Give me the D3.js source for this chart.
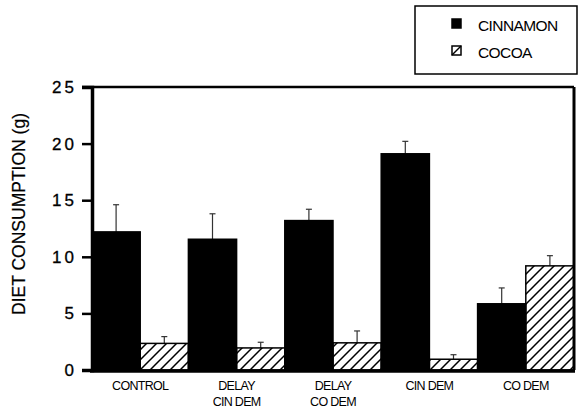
<!DOCTYPE html>
<html>
<head>
<meta charset="utf-8">
<script src="https://cdn.jsdelivr.net/npm/d3@7"></script>
<style>
  body { margin: 0; background: #fff; }
  svg { display: block; font-family: "Liberation Sans", Arial, sans-serif; }
</style>
</head>
<body>
<div id="chart"></div>
<script>
// data
var groups = [["CONTROL"], ["DELAY", "CIN DEM"], ["DELAY", "CO DEM"], ["CIN DEM"], ["CO DEM"]];
var series = ["CINNAMON", "COCOA"];
var cinnamon = [12.2, 11.55, 13.2, 19.1, 5.85];
var cinnamonErr = [2.4, 2.25, 1.0, 1.1, 1.4];
var cocoa = [2.35, 1.95, 2.4, 0.95, 9.2];
var cocoaErr = [0.6, 0.5, 1.05, 0.4, 0.9];
var yTicks = [0, 5, 10, 15, 20, 25];

var W = 581, H = 420;
var plotL = 92, plotR = 574, plotT = 87, plotB = 370;

var svg = d3.select("#chart").append("svg")
    .attr("width", W)
    .attr("height", H);

var defs = svg.append("defs");
defs.append("pattern")
    .attr("id", "hatch")
    .attr("patternUnits", "userSpaceOnUse")
    .attr("width", 10)
    .attr("height", 10)
  .append("path")
    .attr("d", "M-2,12 L12,-2 M-7,7 L7,-7 M3,17 L17,3")
    .attr("stroke", "#000")
    .attr("stroke-width", 1.5);

var x0 = d3.scaleBand()
    .domain(d3.range(groups.length))
    .range([plotL, plotR])
    .padding(0);

var x1 = d3.scaleBand()
    .domain(series)
    .range([0, x0.bandwidth()])
    .padding(0);

var y = d3.scaleLinear()
    .domain([0, 25])
    .range([plotB, plotT]);

var rows = [];
groups.forEach(function(g, i) {
  rows.push({g: i, s: "CINNAMON", v: cinnamon[i], e: cinnamonErr[i]});
  rows.push({g: i, s: "COCOA", v: cocoa[i], e: cocoaErr[i]});
});

// error bars (drawn first so the bar top covers the stem)
var err = svg.append("g").attr("stroke", "#333").attr("stroke-width", 1.2);
rows.forEach(function(d) {
  var cx = x0(d.g) + x1(d.s) + x1.bandwidth() / 2;
  err.append("line")
      .attr("x1", cx).attr("x2", cx)
      .attr("y1", y(d.v)).attr("y2", y(d.v + d.e));
  err.append("line")
      .attr("x1", cx - 3).attr("x2", cx + 3)
      .attr("y1", y(d.v + d.e)).attr("y2", y(d.v + d.e));
});

svg.append("g").selectAll("rect")
    .data(rows)
    .enter().append("rect")
    .attr("x", d => x0(d.g) + x1(d.s))
    .attr("y", d => y(d.v))
    .attr("width", x1.bandwidth())
    .attr("height", d => y(0) - y(d.v))
    .attr("fill", d => d.s == "CINNAMON" ? "#000" : "url(#hatch)")
    .attr("stroke", "#000")
    .attr("stroke-width", 1.5);

// frame: top and right lines
svg.append("line")
    .attr("x1", plotL - 10).attr("x2", plotR)
    .attr("y1", plotT).attr("y2", plotT)
    .attr("stroke", "#000").attr("stroke-width", 2.5);
svg.append("line")
    .attr("x1", plotR).attr("x2", plotR)
    .attr("y1", plotT).attr("y2", plotB)
    .attr("stroke", "#000").attr("stroke-width", 3);

// y axis
var yAxis = svg.append("g")
    .attr("transform", "translate(" + plotL + ",0)")
    .call(d3.axisLeft(y).tickValues(yTicks).tickSize(10).tickPadding(5));
yAxis.select(".domain").attr("stroke-width", 3.5);
yAxis.selectAll(".tick line").attr("stroke-width", 2.5);
yAxis.selectAll(".tick text")
    .attr("font-size", 17)
    .attr("letter-spacing", 3)
    .attr("fill", "#000")
    .attr("stroke", "#000")
    .attr("stroke-width", 0.3)
    .attr("font-family", "Liberation Sans, Arial, sans-serif");

// x axis line
svg.append("line")
    .attr("x1", plotL - 2).attr("x2", plotR + 1)
    .attr("y1", plotB + 1).attr("y2", plotB + 1)
    .attr("stroke", "#000").attr("stroke-width", 3.5);

// category labels
var xl = svg.append("g").attr("font-size", 12.5).attr("text-anchor", "middle")
    .attr("letter-spacing", -0.7);
groups.forEach(function(g, i) {
  var t = xl.append("text")
      .attr("x", x0(i) + x0.bandwidth() / 2)
      .attr("y", 390);
  g.forEach(function(line, j) {
    t.append("tspan")
        .attr("x", x0(i) + x0.bandwidth() / 2)
        .attr("dy", j == 0 ? 0 : 16)
        .text(line);
  });
});

// y title
svg.append("text")
    .attr("transform", "translate(25,214) rotate(-90)")
    .attr("text-anchor", "middle")
    .attr("font-size", 17.5)
    .attr("stroke", "#000")
    .attr("stroke-width", 0.2)
    .text("DIET CONSUMPTION  (g)");

// legend
var lg = svg.append("g");
lg.append("rect")
    .attr("x", 415).attr("y", 6)
    .attr("width", 162).attr("height", 68)
    .attr("fill", "#fff").attr("stroke", "#000").attr("stroke-width", 1.5);
series.forEach(function(s, i) {
  lg.append("rect")
      .attr("x", 452).attr("y", 19 + i * 27)
      .attr("width", 9).attr("height", 9)
      .attr("fill", i == 0 ? "#000" : "#fff")
      .attr("stroke", "#000").attr("stroke-width", 1.5);
  if (i == 1) {
    lg.append("line")
        .attr("x1", 452).attr("y1", 19 + 27 + 9)
        .attr("x2", 461).attr("y2", 19 + 27)
        .attr("stroke", "#000").attr("stroke-width", 1.5);
  }
  lg.append("text")
      .attr("x", 478).attr("y", 31 + i * 27)
      .attr("font-size", 15.5)
      .attr("letter-spacing", -0.6)
      .text(s);
});
</script>
</body>
</html>
